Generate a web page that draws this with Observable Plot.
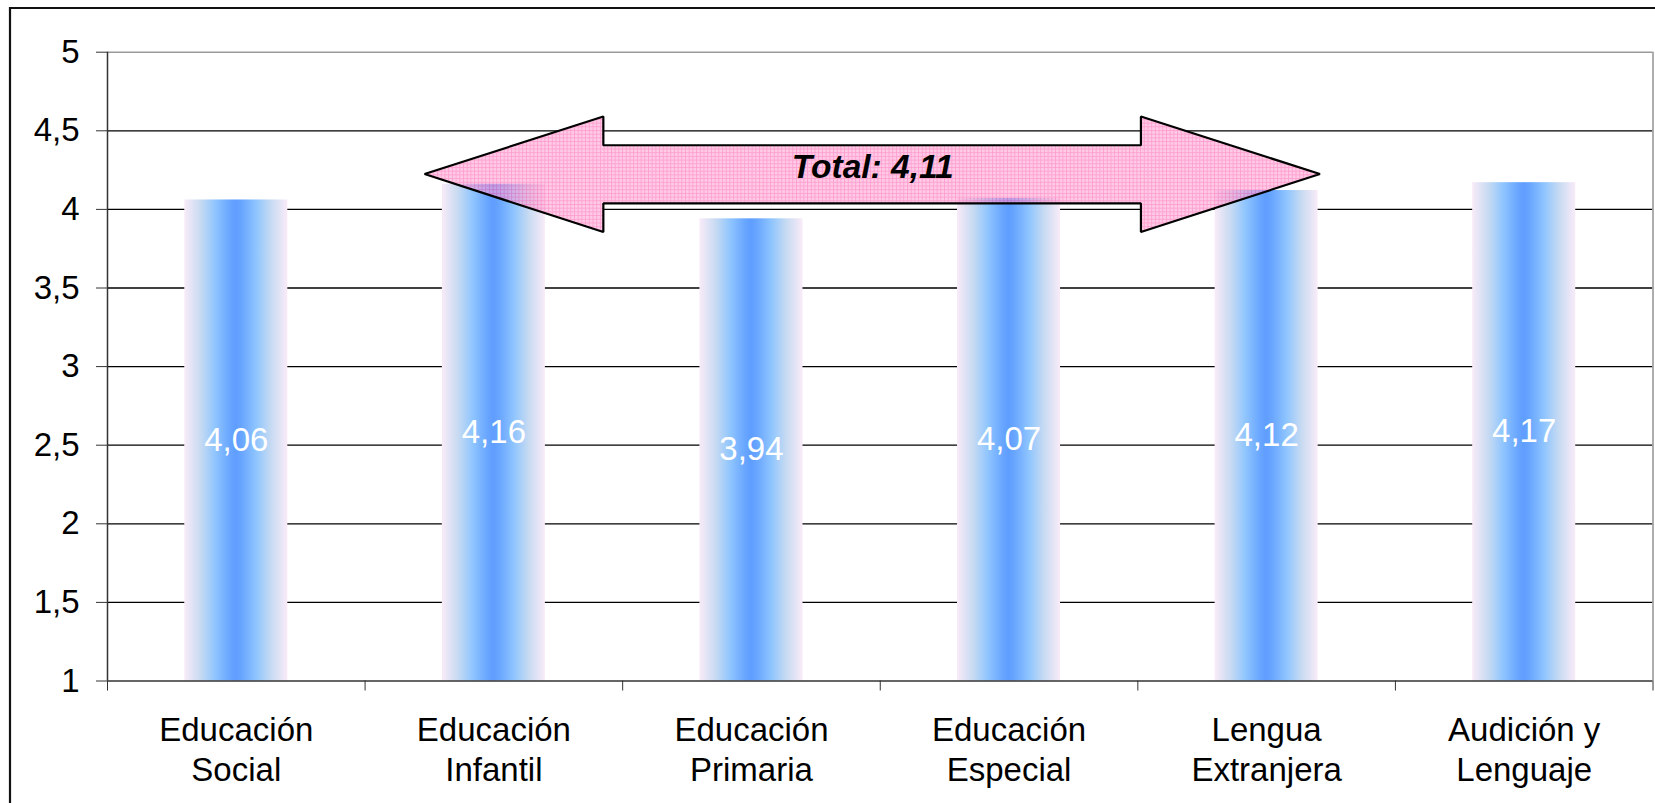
<!DOCTYPE html>
<html>
<head>
<meta charset="utf-8">
<script src="https://cdn.jsdelivr.net/npm/d3@7"></script>
<script src="https://cdn.jsdelivr.net/npm/@observablehq/plot@0.6"></script>
<style>
  html, body { margin: 0; padding: 0; background: white; }
  #chart svg { display: block; }
</style>
</head>
<body>
<div id="chart"></div>
<script>
// ---- data ----
const categories = ["Educación\nSocial", "Educación\nInfantil", "Educación\nPrimaria", "Educación\nEspecial", "Lengua\nExtranjera", "Audición y\nLenguaje"];
const values = [4.06, 4.16, 3.94, 4.07, 4.12, 4.17];
const yTicks = [1, 1.5, 2, 2.5, 3, 3.5, 4, 4.5, 5];
const totalLabel = "Total: 4,11";
// annotation arrow outline in data units (category index, score)
const arrowX = [1.231, 1.925, 1.925, 4.012, 4.012, 4.707, 4.012, 4.012, 1.925, 1.925];
const arrowY = [4.225, 4.591, 4.408, 4.408, 4.591, 4.225, 3.856, 4.038, 4.038, 3.856];
const totalAt = [2.971, 4.268];

const fmt = d => String(d).replace(".", ",");
const rows = categories.map((c, i) => ({i, cat: c, value: values[i], label: values[i].toFixed(2).replace(".", ",")}));
const arrowPts = arrowX.map((x, i) => ({x, y: arrowY[i]}));

const defsMark = () => {
  const g = d3.create("svg:defs");
  const lg = g.append("linearGradient").attr("id", "barGrad").attr("x1", 0).attr("x2", 1).attr("y1", 0).attr("y2", 0);
  [[0, "#f9ebf8"], [0.16, "#c6daf2"], [0.3, "#8fc5fe"], [0.44, "#69a6ff"], [0.5, "#5f9dff"], [0.56, "#69a6ff"], [0.7, "#8fc5fe"], [0.84, "#c6daf2"], [1, "#f9ebf8"]]
    .forEach(([o, c]) => lg.append("stop").attr("offset", o).attr("stop-color", c));
  const s = 3.7;
  const p = g.append("pattern").attr("id", "arrowPat").attr("width", s).attr("height", s).attr("patternUnits", "userSpaceOnUse");
  p.append("rect").attr("width", s).attr("height", s).attr("fill", "rgb(255,168,212)");
  p.append("path").attr("d", `M0 0.5H${s}M0.5 0V${s}`).attr("stroke", "rgb(255,95,178)").attr("stroke-width", 0.9).attr("fill", "none");
  return g.node();
};

const outerFrame = (index, scales, values, dims) => {
  const g = d3.create("svg:g");
  g.append("line").attr("x1", 9).attr("x2", dims.width + 5).attr("y1", 8).attr("y2", 8).attr("stroke", "#111").attr("stroke-width", 2.2);
  g.append("line").attr("x1", 10).attr("x2", 10).attr("y1", 7).attr("y2", dims.height + 5).attr("stroke", "#111").attr("stroke-width", 2.2);
  return g.node();
};

const FS = 33;

const chart = Plot.plot({
  width: 1655,
  height: 803,
  marginLeft: 107,
  marginRight: 2.5,
  marginTop: 51.7,
  marginBottom: 122.5,
  x: {domain: [0, 6], axis: null},
  y: {domain: [1, 5], axis: null},
  style: {fontFamily: "'Liberation Sans', Arial, sans-serif", fontSize: FS + "px", background: "white", color: "black", overflow: "visible"},
  marks: [
    defsMark,
    Plot.ruleY(yTicks.filter(d => d > 1 && d < 5), {stroke: "black", strokeWidth: 1.3}),
    Plot.ruleY([5], {stroke: "#9a9a9a", strokeWidth: 1.6}),
    Plot.ruleX([6], {stroke: "#9a9a9a", strokeWidth: 1.6}),
    Plot.line(arrowPts, {x: "x", y: "y", curve: "linear-closed", fill: "white", stroke: "none"}),
    Plot.rect(rows, {x1: d => d.i + 0.3, x2: d => d.i + 0.7, y1: 1, y2: "value", fill: "url(#barGrad)"}),
    Plot.ruleX([0], {stroke: "#333", strokeWidth: 1.5}),
    Plot.ruleY([1], {stroke: "#333", strokeWidth: 1.5}),
    Plot.axisY({ticks: yTicks, tickSize: 11, tickPadding: 17, tickFormat: fmt, fontSize: FS, stroke: "#333", fill: "black", label: null}),
    Plot.axisX({ticks: [0, 1, 2, 3, 4, 5, 6], tickSize: 10, tickFormat: () => "", stroke: "#333", label: null}),
    Plot.text(rows, {x: d => d.i + 0.5, y: d => (1 + d.value) / 2, text: "label", fill: "white", fontSize: FS}),
    Plot.text(rows, {x: d => d.i + 0.5, y: 1, text: "cat", lineAnchor: "top", dy: 31.8, lineHeight: 40 / FS, fontSize: FS, fill: "black"}),
    Plot.line(arrowPts, {x: "x", y: "y", curve: "linear-closed", fill: "url(#arrowPat)", fillOpacity: 0.6, stroke: "black", strokeWidth: 2.2, strokeLinejoin: "miter"}),
    Plot.text([totalLabel], {x: totalAt[0], y: totalAt[1], text: d => d, fontWeight: "bold", fontStyle: "italic", fontSize: 33.5, fill: "black"}),
    outerFrame
  ]
});
document.getElementById("chart").appendChild(chart);
</script>
</body>
</html>
